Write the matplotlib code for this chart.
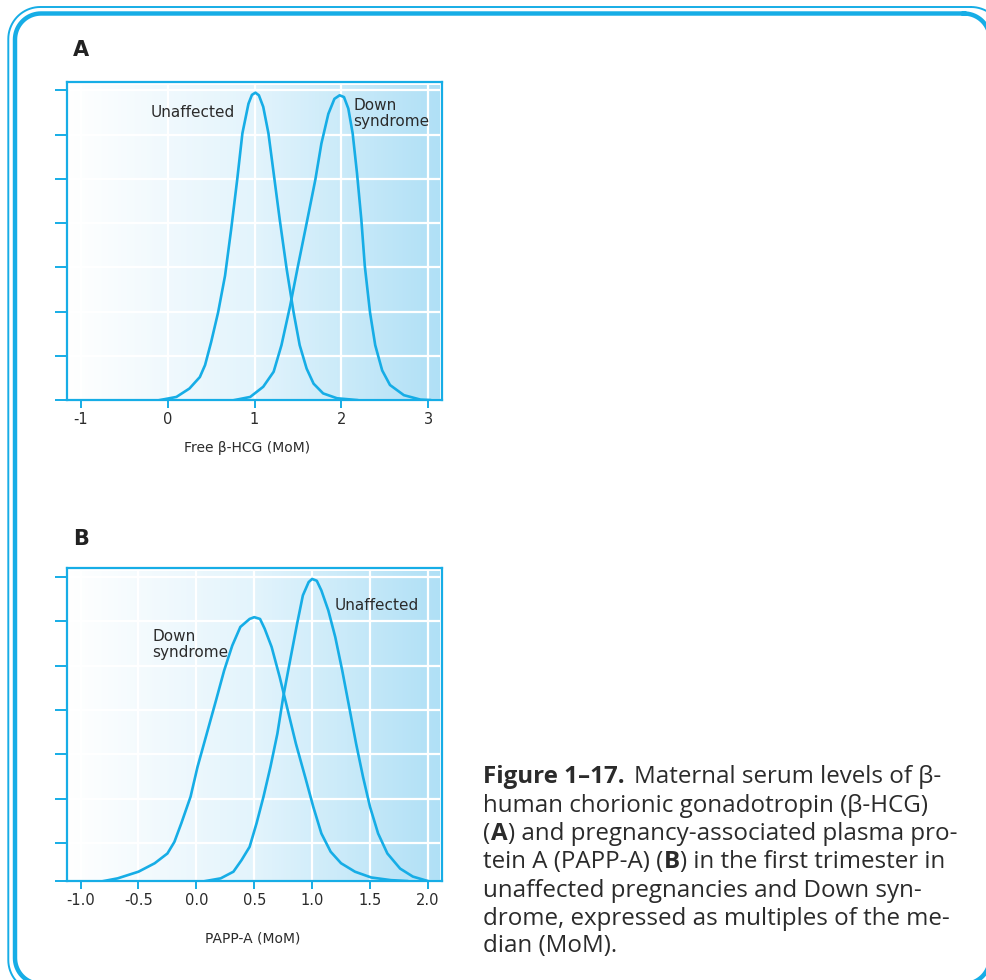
import matplotlib
matplotlib.use('Agg')
import matplotlib.pyplot as plt
import numpy as np
from matplotlib.colors import LinearSegmentedColormap

# panel A: free beta-HCG (MoM)
a_ticks = [-1, 0, 1, 2, 3]
a_tick_labels = ['-1', '0', '1', '2', '3']
a_y_ticks = [0, 1, 2, 3, 4, 5, 6, 7]
a_unaff_x = [-0.09, 0.10, 0.25, 0.37, 0.43, 0.50, 0.58, 0.66, 0.73, 0.80, 0.86, 0.93,
             0.97, 1.01, 1.05, 1.10, 1.16, 1.22, 1.29, 1.37, 1.45, 1.52, 1.60, 1.68,
             1.79, 1.95, 2.18]
a_unaff_y = [0.0, 0.07, 0.26, 0.52, 0.79, 1.31, 1.98, 2.81, 3.85, 4.98, 6.03, 6.70,
             6.90, 6.95, 6.89, 6.63, 6.03, 5.13, 4.08, 2.96, 1.98, 1.24, 0.71, 0.37,
             0.15, 0.04, 0.0]
a_down_x = [0.77, 0.95, 1.10, 1.22, 1.31, 1.41, 1.50, 1.60, 1.70, 1.77, 1.85, 1.92,
            1.98, 2.03, 2.08, 2.13, 2.18, 2.23, 2.27, 2.33, 2.39, 2.47, 2.56, 2.72,
            2.91, 3.02]
a_down_y = [0.0, 0.07, 0.30, 0.64, 1.24, 2.13, 3.03, 4.00, 4.98, 5.80, 6.47, 6.81,
            6.89, 6.85, 6.59, 6.03, 5.13, 4.08, 3.03, 1.98, 1.24, 0.67, 0.34, 0.11,
            0.01, 0.0]

# panel B: PAPP-A (MoM)
b_ticks = [-1.0, -0.5, 0.0, 0.5, 1.0, 1.5, 2.0]
b_tick_labels = ['-1.0', '-0.5', '0.0', '0.5', '1.0', '1.5', '2.0']
b_y_ticks = [0, 0.85, 1.85, 2.85, 3.85, 4.85, 5.85, 6.85]
b_unaff_x = [0.08, 0.21, 0.32, 0.39, 0.46, 0.52, 0.58, 0.64, 0.70, 0.75, 0.81, 0.87,
             0.92, 0.97, 1.00, 1.04, 1.08, 1.14, 1.20, 1.26, 1.32, 1.38, 1.44, 1.50,
             1.57, 1.65, 1.76, 1.87, 2.00]
b_unaff_y = [0.0, 0.06, 0.21, 0.47, 0.77, 1.30, 1.90, 2.57, 3.32, 4.14, 4.97, 5.79,
             6.43, 6.73, 6.80, 6.76, 6.54, 6.09, 5.49, 4.74, 3.92, 3.09, 2.34, 1.67,
             1.07, 0.62, 0.28, 0.10, 0.0]
b_down_x = [-0.80, -0.68, -0.50, -0.36, -0.25, -0.19, -0.13, -0.05, 0.01, 0.09, 0.17,
            0.24, 0.31, 0.38, 0.46, 0.50, 0.55, 0.59, 0.65, 0.72, 0.79, 0.86, 0.94,
            1.01, 1.08, 1.16, 1.25, 1.37, 1.51, 1.68, 1.82]
b_down_y = [0.0, 0.06, 0.21, 0.40, 0.62, 0.88, 1.30, 1.90, 2.57, 3.32, 4.07,
            4.74, 5.30, 5.72, 5.90, 5.94, 5.90, 5.68, 5.27, 4.59, 3.84, 3.09, 2.34,
            1.67, 1.07, 0.66, 0.40, 0.21, 0.08, 0.02, 0.0]

BLUE = '#16ade6'
TEXT = '#2b2b2b'
H = 980

fig = plt.figure(figsize=(9.87, 9.8), dpi=100)
bg = LinearSegmentedColormap.from_list('bg', ['#ffffff', '#e3f4fc', '#b0e0f6'])

# full-figure layer in pixel units (y measured from the top via H - y)
page = fig.add_axes([0, 0, 1, 1])
page.set_xlim(0, 987)
page.set_ylim(0, H)
page.axis('off')


def rounded_rect(x0, top, x1, bottom, r):
    """Outline of a rounded box, given in pixels from the top-left."""
    t = np.linspace(0, np.pi / 2, 20)
    xs = np.concatenate([x1 - r + r * np.sin(t), x1 - r + r * np.cos(t),
                         x0 + r - r * np.sin(t), x0 + r - r * np.cos(t)])
    ys = np.concatenate([top + r - r * np.cos(t), bottom - r + r * np.sin(t),
                         bottom - r + r * np.cos(t), top + r - r * np.sin(t)])
    xs = np.append(xs, xs[0])
    ys = np.append(ys, ys[0])
    return xs, H - ys


for box, lw in [((8.3, 7, 1003, 992, 32), 1.4), ((15, 13.5, 990, 984, 26), 3.2)]:
    fx, fy = rounded_rect(*box)
    page.plot(fx, fy, color=BLUE, lw=lw, clip_on=False)


def draw_panel(ax, xlim, ylim, xticks, xlabels, yticks):
    grad = np.linspace(0, 1, 256).reshape(1, -1)
    ax.imshow(grad, cmap=bg, aspect='auto', extent=(0, 0.992, 0, 0.99),
              transform=ax.transAxes, zorder=0)
    ax.set_xlim(*xlim)
    ax.set_ylim(*ylim)
    ax.set_xticks(xticks)
    ax.set_xticklabels(xlabels)
    ax.set_yticks(yticks)
    ax.set_axisbelow(True)
    ax.grid(True, color='white', lw=1.6)
    for s in ax.spines.values():
        s.set_color(BLUE)
        s.set_linewidth(1.6)
    ax.tick_params(axis='y', direction='out', length=8.6, width=1.4,
                   color=BLUE, labelleft=False)
    ax.tick_params(axis='x', direction='out', length=5.8, width=1.4,
                   color=BLUE, labelcolor=TEXT, labelsize=10.5, pad=3)


ax_a = fig.add_axes([0.0679, 0.5918, 0.380, 0.3245])
draw_panel(ax_a, (-1.16, 3.16), (0, 7.19), a_ticks, a_tick_labels, a_y_ticks)
ax_a.plot(a_unaff_x, a_unaff_y, color=BLUE, lw=1.9, solid_joinstyle='round')
ax_a.plot(a_down_x, a_down_y, color=BLUE, lw=1.9, solid_joinstyle='round')
ax_a.text(0.29, 6.5, 'Unaffected', ha='center', va='center', fontsize=11, color=TEXT)
ax_a.text(2.14, 6.48, 'Down\nsyndrome', ha='left', va='center', fontsize=11,
          color=TEXT, linespacing=1.1)

ax_b = fig.add_axes([0.0676, 0.1010, 0.380, 0.3191])
draw_panel(ax_b, (-1.12, 2.12), (0, 7.04), b_ticks, b_tick_labels, b_y_ticks)
ax_b.plot(b_unaff_x, b_unaff_y, color=BLUE, lw=1.9, solid_joinstyle='round')
ax_b.plot(b_down_x, b_down_y, color=BLUE, lw=1.9, solid_joinstyle='round')
ax_b.text(1.19, 6.21, 'Unaffected', ha='left', va='center', fontsize=11, color=TEXT)
ax_b.text(-0.38, 5.32, 'Down\nsyndrome', ha='left', va='center', fontsize=11,
          color=TEXT, linespacing=1.1)

# axis titles and panel letters (pixel positions from the top)
page.text(247, H - 448, 'Free β-HCG (MoM)', ha='center', va='center', fontsize=10, color=TEXT)
page.text(253, H - 938, 'PAPP-A (MoM)', ha='center', va='center', fontsize=10, color=TEXT)
page.text(73, H - 56, 'A', fontsize=15, fontweight='bold', color='#222222')
page.text(73, H - 545, 'B', fontsize=15, fontweight='bold', color='#222222')

# caption with bold pieces
caption = [
    [('Figure 1–17.', 'bold'), ('Maternal serum levels of β-', 'normal')],
    [('human chorionic gonadotropin (β-HCG)', 'normal')],
    [('(', 'normal'), ('A', 'bold'), (') and pregnancy-associated plasma pro-', 'normal')],
    [('tein A (PAPP-A) (', 'normal'), ('B', 'bold'), (') in the first trimester in', 'normal')],
    [('unaffected pregnancies and Down syn-', 'normal')],
    [('drome, expressed as multiples of the me-', 'normal')],
    [('dian (MoM).', 'normal')],
]
baselines = [783, 812, 840, 868, 897, 925, 952]
renderer = fig.canvas.get_renderer()
inv = page.transData.inverted()
for parts, yb in zip(caption, baselines):
    x = 483
    for i, (s, w) in enumerate(parts):
        if i > 0 and parts[i - 1][0].endswith('.'):
            x += 9
        t = page.text(x, H - yb, s, ha='left', va='baseline', fontsize=17.4,
                      fontweight=w, family='Open Sans', color=TEXT)
        x1 = t.get_window_extent(renderer).x1
        x = inv.transform((x1, 0))[0] + 0.5

fig.savefig('out.png', dpi=100)
